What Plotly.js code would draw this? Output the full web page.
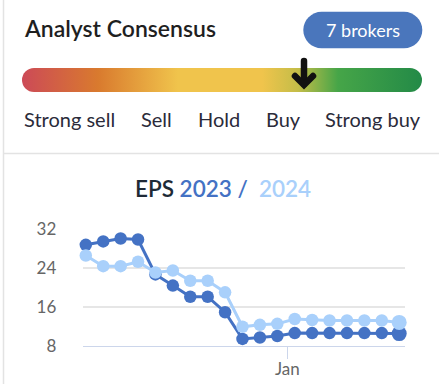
<!DOCTYPE html>
<html>
<head>
<meta charset="utf-8">
<script src="https://cdn.plot.ly/plotly-3.0.1.min.js"></script>
<style>
html,body{margin:0;padding:0;background:#fff;}
#chart{width:439px;height:384px;}
</style>
</head>
<body>
<div id="chart"></div>
<script>
// ---- data ----
const dates = ['2022-10-12','2022-10-19','2022-10-26','2022-11-02','2022-11-09','2022-11-16','2022-11-23','2022-11-30','2022-12-07','2022-12-14','2022-12-21','2022-12-28','2023-01-04','2023-01-11','2023-01-18','2023-01-25','2023-02-01','2023-02-08','2023-02-15'];
const eps2023 = [28.8, 29.5, 30.1, 29.9, 22.7, 20.4, 18.1, 18.1, 14.9, 9.4, 9.7, 10.0, 10.6, 10.6, 10.6, 10.6, 10.6, 10.6, 10.5];
const eps2024 = [26.6, 24.4, 24.4, 25.3, 23.1, 23.5, 21.4, 21.4, 19.0, 11.9, 12.3, 12.5, 13.5, 13.3, 13.2, 13.2, 13.2, 13.2, 12.8];
const yTicks = [8, 16, 24, 32];
const xTickVals = ['2023-01-01'];
const xTickText = ['Jan'];
const consensusLabels = ['Strong sell', 'Sell', 'Hold', 'Buy', 'Strong buy'];
const brokers = 7;

// ---- layout helpers (pixel -> paper) ----
const W = 439, H = 384;
const px = x => x / W;
const py = y => 1 - y / H;
const FONT = 'Lato, "Open Sans", sans-serif';
const C23 = '#4472c4', C24 = '#a9d0fb';

const sizes = arr => arr.map((_, i) => i === arr.length - 1 ? 15 : 12.5);

const traces = [
  {x: dates, y: eps2023, type: 'scatter', mode: 'lines+markers', name: '2023',
   line: {color: C23, width: 3}, marker: {color: C23, size: sizes(eps2023), opacity: 1, line: {width: 0}}, cliponaxis: false, hoverinfo: 'skip'},
  {x: dates, y: eps2024, type: 'scatter', mode: 'lines+markers', name: '2024',
   line: {color: C24, width: 3}, marker: {color: C24, size: sizes(eps2024), opacity: 1, line: {width: 0}}, cliponaxis: false, hoverinfo: 'skip'}
];

// header graphics (gradient bar, arrow, borders) as svg image
const svg = `<svg xmlns="http://www.w3.org/2000/svg" width="439" height="384" viewBox="0 0 439 384">
<defs><linearGradient id="g" x1="0" x2="1" y1="0" y2="0">
<stop offset="0" stop-color="#cc4a57"/>
<stop offset="0.19" stop-color="#d97a2e"/>
<stop offset="0.39" stop-color="#f0c44c"/>
<stop offset="0.60" stop-color="#f0c44c"/>
<stop offset="0.69" stop-color="#c4bd48"/>
<stop offset="0.79" stop-color="#46a548"/>
<stop offset="1" stop-color="#238a47"/>
</linearGradient></defs>
<line x1="3.5" y1="0" x2="3.5" y2="384" stroke="#e3e3e3" stroke-width="1.5"/>
<line x1="3.5" y1="153.5" x2="439" y2="153.5" stroke="#e3e3e3" stroke-width="1.5"/>
<rect x="22" y="68" width="400" height="24" rx="12" ry="12" fill="url(#g)"/>
<line x1="304" y1="61" x2="304" y2="84" stroke="#111" stroke-width="6.5" stroke-linecap="round"/>
<polyline points="295,76 304,85 313,76" fill="none" stroke="#111" stroke-width="6.5" stroke-linecap="round" stroke-linejoin="miter"/>
</svg>`;
const svgUri = 'data:image/svg+xml;base64,' + btoa(svg);

const labelX = [69, 156, 219, 283, 373];
const annotations = [
  {text: 'Analyst Consensus', x: px(22), y: py(27.5), xanchor: 'left', yanchor: 'middle',
   font: {family: FONT, size: 23, color: '#1f1f1f', weight: 600}},
  {text: brokers + '\u00a0brokers', x: px(362.5), y: py(30), xanchor: 'center', yanchor: 'middle',
   font: {family: FONT, size: 18, color: '#ffffff'}},
  {text: 'EPS <span style="color:' + C23 + '">2023 /</span>\u00a0 <span style="color:' + C24 + '">2024</span>',
   x: px(222.5), y: py(188.5), xanchor: 'center', yanchor: 'middle',
   font: {family: FONT, size: 22.5, color: '#1e2a36', weight: 600}}
].concat(consensusLabels.map((t, i) => ({
  text: t, x: px(labelX[i]), y: py(118.5), xanchor: 'center', yanchor: 'middle',
  font: {family: FONT, size: 20, color: '#2b2b3a'}
})));
annotations.forEach(a => { a.xref = 'paper'; a.yref = 'paper'; a.showarrow = false; });

const layout = {
  width: W, height: H,
  margin: {l: 0, r: 0, t: 0, b: 0, pad: 0},
  paper_bgcolor: '#ffffff', plot_bgcolor: 'rgba(0,0,0,0)',
  showlegend: false,
  font: {family: FONT},
  xaxis: {
    type: 'date', domain: [px(82.7), px(405)],
    range: ['2022-10-10 18:00', '2023-02-17 08:00'],
    tickmode: 'array', tickvals: xTickVals, ticktext: xTickText,
    ticks: 'outside', ticklen: 12, tickwidth: 1.5, tickcolor: '#ccd6eb',
    ticklabelstandoff: -5,
    showline: true, linecolor: '#ccd6eb', linewidth: 1.5,
    showgrid: false, zeroline: false, automargin: false, fixedrange: true,
    tickfont: {family: FONT, size: 17, color: '#666666'}
  },
  yaxis: {
    domain: [py(345.7), py(229.3)], range: [8, 32],
    tickmode: 'array', tickvals: yTicks,
    showgrid: true, gridcolor: '#e6e6e6', gridwidth: 1.5,
    showline: false, zeroline: false, ticks: 'outside', ticklen: 22, tickcolor: 'rgba(0,0,0,0)',
    automargin: false, fixedrange: true,
    tickfont: {family: FONT, size: 17, color: '#666666'}
  },
  shapes: [
    {type: 'path', xref: 'paper', yref: 'paper', layer: 'above',
     path: (() => {
       const x0 = 303.3, x1 = 422.3, y0 = 11.7, y1 = 48.3, r = 18.3;
       return `M ${px(x0 + r)} ${py(y0)} L ${px(x1 - r)} ${py(y0)} ` +
         `C ${px(x1 - r * 0.45)} ${py(y0)} ${px(x1)} ${py(y0 + r * 0.45)} ${px(x1)} ${py(y0 + r)} ` +
         `C ${px(x1)} ${py(y1 - r * 0.45)} ${px(x1 - r * 0.45)} ${py(y1)} ${px(x1 - r)} ${py(y1)} ` +
         `L ${px(x0 + r)} ${py(y1)} ` +
         `C ${px(x0 + r * 0.45)} ${py(y1)} ${px(x0)} ${py(y1 - r * 0.45)} ${px(x0)} ${py(y1 - r)} ` +
         `C ${px(x0)} ${py(y0 + r * 0.45)} ${px(x0 + r * 0.45)} ${py(y0)} ${px(x0 + r)} ${py(y0)} Z`;
     })(),
     fillcolor: '#4a76bc', line: {width: 0}}
  ],
  images: [{source: svgUri, xref: 'paper', yref: 'paper', x: 0, y: 1, sizex: 1, sizey: 1,
            xanchor: 'left', yanchor: 'top', sizing: 'stretch', layer: 'below'}],
  annotations: annotations
};

Plotly.newPlot('chart', traces, layout, {displayModeBar: false, staticPlot: true});
</script>
</body>
</html>
